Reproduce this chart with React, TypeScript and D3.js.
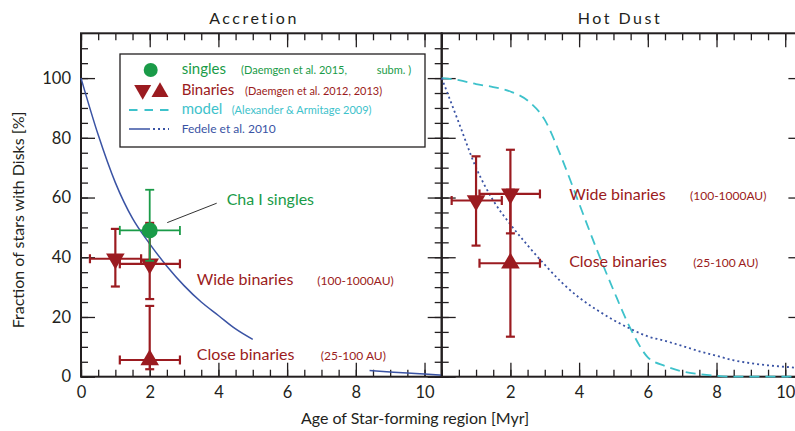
import React, { useEffect, useRef } from "react";
import * as d3 from "d3";

// Accretion panel: Fedele et al. 2010 curve, two pieces (hidden behind the label in between)
const fedeleAccAgeA = [0, 0.5, 1, 1.5, 2, 2.5, 3, 3.5, 4, 4.5, 5];
const fedeleAccFracA = [100, 81, 65, 53, 44.5, 37, 30.5, 25, 20.5, 16, 12.5];
const fedeleAccAgeB = [8.4, 9, 9.5, 10, 10.5];
const fedeleAccFracB = [2.1, 1.6, 1.2, 0.9, 0.5];

// Hot dust panel: Alexander & Armitage 2009 model and Fedele et al. 2010
const modelAge = [0, 0.5, 1, 1.5, 2, 2.5, 3, 3.5, 4, 4.5, 5, 5.5, 6, 6.5, 7, 7.5, 8, 8.5, 9, 10, 10.5];
const modelFrac = [100, 99.3, 98, 97, 95.5, 92.5, 86, 73, 58, 43, 29, 16, 6.5, 3.6, 1.8, 0.9, 0.3, 0, 0, 0, 0];
const fedeleDustAge = [0, 0.5, 1, 1.5, 2, 2.5, 3, 3.5, 4, 4.5, 5, 5.5, 6, 6.5, 7, 7.5, 8, 8.5, 9, 9.5, 10, 10.5];
const fedeleDustFrac = [100, 85, 70, 59, 51, 44, 37.5, 31.5, 26.5, 22.5, 19, 16, 13.5, 12, 10.3, 8.5, 7, 5.5, 4.5, 3.8, 3.3, 2.8];

// measurements: age [Myr], disk fraction [%], error ranges
type Pt = { age: number; frac: number; ageLo: number; ageHi: number; fracLo: number; fracHi: number };
const singlesAcc: Pt[] = [{ age: 2.0, frac: 49, ageLo: 1.13, ageHi: 2.88, fracLo: 38.8, fracHi: 62.6 }];
const wideAcc: Pt[] = [
  { age: 1.0, frac: 39.5, ageLo: 0.26, ageHi: 1.75, fracLo: 30.2, fracHi: 49.5 },
  { age: 2.0, frac: 37.8, ageLo: 1.13, ageHi: 2.88, fracLo: 26, fracHi: 51.5 },
];
const closeAcc: Pt[] = [{ age: 2.0, frac: 5.6, ageLo: 1.13, ageHi: 2.88, fracLo: 2.5, fracHi: 23.7 }];
const wideDust: Pt[] = [
  { age: 1.0, frac: 59, ageLo: 0.29, ageHi: 1.75, fracLo: 43.9, fracHi: 73.8 },
  { age: 2.0, frac: 61.2, ageLo: 1.1, ageHi: 2.86, fracLo: 48, fracHi: 76 },
];
const closeDust: Pt[] = [{ age: 2.0, frac: 38, ageLo: 1.1, ageHi: 2.86, fracLo: 13.4, fracHi: 62.6 }];

const xTicksAcc = [0, 2, 4, 6, 8, 10];
const xTicksDust = [2, 4, 6, 8, 10];
const yTicks = [0, 20, 40, 60, 80, 100];

const GREEN = "#1a9b48";
const RED = "#9b1b20";
const CYAN = "#3ec2cb";
const BLUE = "#3a53a4";
const INK = "#231f20";
const FONT = "Lato, 'Open Sans', sans-serif";

const width = 795;
const height = 431;
const top = 33.3;
const bottom = 376.7;
const panelW = 360.7;

export default function App() {
  const ref = useRef<SVGSVGElement>(null);

  useEffect(() => {
    const svg = d3.select(ref.current);
    svg.selectAll("*").remove();
    svg.style("font-family", FONT);

    const y = d3.scaleLinear().domain([0, 115]).range([bottom, top]);
    const minor = d3.range(0, 10.51, 0.5);
    const yMinor = d3.range(0, 115, 5);

    const zip = (a: number[], b: number[]) => a.map((v, i) => [v, b[i]] as [number, number]);

    const panel = (x0: number, title: string, titleX: number, labels: number[], leftLabels: boolean) => {
      const x = d3.scaleLinear().domain([0, 10.5]).range([x0, x0 + panelW]);
      const g = svg.append("g");

      const tickStyle = (a: d3.Selection<SVGGElement, unknown, null, undefined>) => {
        a.select(".domain").remove();
        a.selectAll("line").attr("stroke", INK).attr("stroke-width", 1.3);
        a.selectAll("text").attr("fill", INK).style("font-family", FONT).style("font-size", "16.5px");
      };

      // bottom / top
      g.append("g").attr("transform", `translate(0,${bottom})`)
        .call(d3.axisBottom(x).tickValues(minor).tickSize(-7).tickFormat(() => "")).call(tickStyle);
      g.append("g").attr("transform", `translate(0,${bottom})`)
        .call(d3.axisBottom(x).tickValues(labels).tickSize(-14).tickPadding(10).tickFormat(d3.format("d"))).call(tickStyle);
      g.append("g").attr("transform", `translate(0,${top})`)
        .call(d3.axisTop(x).tickValues(minor).tickSize(-7).tickFormat(() => "")).call(tickStyle);
      g.append("g").attr("transform", `translate(0,${top})`)
        .call(d3.axisTop(x).tickValues(xTicksAcc).tickSize(-14).tickFormat(() => "")).call(tickStyle);
      // left / right
      g.append("g").attr("transform", `translate(${x0},0)`)
        .call(d3.axisLeft(y).tickValues(yMinor).tickSize(-7).tickFormat(() => "")).call(tickStyle);
      g.append("g").attr("transform", `translate(${x0},0)`)
        .call(d3.axisLeft(y).tickValues(yTicks).tickSize(-14).tickPadding(10)
          .tickFormat(leftLabels ? d3.format("d") : () => "")).call(tickStyle);
      g.append("g").attr("transform", `translate(${x0 + panelW},0)`)
        .call(d3.axisRight(y).tickValues(yMinor).tickSize(-7).tickFormat(() => "")).call(tickStyle);
      g.append("g").attr("transform", `translate(${x0 + panelW},0)`)
        .call(d3.axisRight(y).tickValues(yTicks).tickSize(-14).tickFormat(() => "")).call(tickStyle);

      g.append("rect")
        .attr("x", x0).attr("y", top).attr("width", panelW).attr("height", bottom - top)
        .attr("fill", "none").attr("stroke", INK).attr("stroke-width", 2);

      g.append("text")
        .attr("x", titleX).attr("y", 24).attr("text-anchor", "middle")
        .attr("fill", INK).style("font-size", "16px").style("letter-spacing", "2.5px")
        .text(title);

      const line = d3.line<[number, number]>()
        .x(d => x(d[0])).y(d => y(d[1]))
        .curve(d3.curveMonotoneX);

      return { x, g, line };
    };

    const errorBars = (g: any, x: d3.ScaleLinear<number, number>, pts: Pt[], color: string, w: number) => {
      const cap = 4.5;
      const eg = g.append("g").attr("stroke", color).attr("stroke-width", w).attr("fill", "none");
      pts.forEach(p => {
        const cx = x(p.age), cy = y(p.frac);
        eg.append("line").attr("x1", cx).attr("x2", cx).attr("y1", y(p.fracLo)).attr("y2", y(p.fracHi));
        eg.append("line").attr("x1", cx - cap).attr("x2", cx + cap).attr("y1", y(p.fracLo)).attr("y2", y(p.fracLo));
        eg.append("line").attr("x1", cx - cap).attr("x2", cx + cap).attr("y1", y(p.fracHi)).attr("y2", y(p.fracHi));
        eg.append("line").attr("x1", x(p.ageLo)).attr("x2", x(p.ageHi)).attr("y1", cy).attr("y2", cy);
        eg.append("line").attr("x1", x(p.ageLo)).attr("x2", x(p.ageLo)).attr("y1", cy - cap).attr("y2", cy + cap);
        eg.append("line").attr("x1", x(p.ageHi)).attr("x2", x(p.ageHi)).attr("y1", cy - cap).attr("y2", cy + cap);
      });
    };

    const triangles = (g: any, x: d3.ScaleLinear<number, number>, pts: Pt[], down: boolean) => {
      const sym = d3.symbol().type(d3.symbolTriangle).size(150);
      g.selectAll(null).data(pts).enter().append("path")
        .attr("d", sym())
        .attr("fill", RED)
        .attr("transform", (p: Pt) => `translate(${x(p.age)},${y(p.frac)}) rotate(${down ? 180 : 0})`);
    };

    const label = (g: any, x: d3.ScaleLinear<number, number>, ax: number, ay: number, txt: string, color: string, size: number) => {
      g.append("text").attr("x", x(ax)).attr("y", y(ay)).attr("fill", color)
        .style("font-size", `${size}px`).text(txt);
    };

    // ---- Accretion ----
    const acc = panel(81, "Accretion", 254, xTicksAcc, true);
    [zip(fedeleAccAgeA, fedeleAccFracA), zip(fedeleAccAgeB, fedeleAccFracB)].forEach(seg => {
      acc.g.append("path").attr("d", acc.line(seg)).attr("fill", "none")
        .attr("stroke", BLUE).attr("stroke-width", 1.5);
    });
    errorBars(acc.g, acc.x, wideAcc, RED, 2.2);
    errorBars(acc.g, acc.x, closeAcc, RED, 2.2);
    triangles(acc.g, acc.x, wideAcc, true);
    triangles(acc.g, acc.x, closeAcc, false);
    errorBars(acc.g, acc.x, singlesAcc, GREEN, 1.8);
    acc.g.selectAll(null).data(singlesAcc).enter().append("circle")
      .attr("cx", (p: Pt) => acc.x(p.age)).attr("cy", (p: Pt) => y(p.frac)).attr("r", 8).attr("fill", GREEN);

    acc.g.append("line")
      .attr("x1", acc.x(2.51)).attr("y1", y(51.6)).attr("x2", acc.x(3.95)).attr("y2", y(58.1))
      .attr("stroke", "#333").attr("stroke-width", 1);
    label(acc.g, acc.x, 4.24, 57.6, "Cha I singles", GREEN, 16);
    label(acc.g, acc.x, 3.37, 30.75, "Wide binaries", RED, 16);
    label(acc.g, acc.x, 6.88, 30.75, "(100-1000AU)", RED, 12);
    label(acc.g, acc.x, 3.37, 5.6, "Close binaries", RED, 16);
    label(acc.g, acc.x, 6.98, 5.6, "(25-100 AU)", RED, 12);

    // ---- Hot Dust ----
    const dust = panel(441.7, "Hot Dust", 620, xTicksDust, false);
    dust.g.append("path").attr("d", dust.line(zip(modelAge, modelFrac))).attr("fill", "none")
      .attr("stroke", CYAN).attr("stroke-width", 1.8).attr("stroke-dasharray", "10 6");
    dust.g.append("path").attr("d", dust.line(zip(fedeleDustAge, fedeleDustFrac))).attr("fill", "none")
      .attr("stroke", BLUE).attr("stroke-width", 1.8).attr("stroke-dasharray", "2 3");
    errorBars(dust.g, dust.x, wideDust, RED, 2.2);
    errorBars(dust.g, dust.x, closeDust, RED, 2.2);
    triangles(dust.g, dust.x, wideDust, true);
    triangles(dust.g, dust.x, closeDust, false);
    label(dust.g, dust.x, 3.71, 59.3, "Wide binaries", RED, 16);
    label(dust.g, dust.x, 7.23, 59.3, "(100-1000AU)", RED, 12);
    label(dust.g, dust.x, 3.71, 36.9, "Close binaries", RED, 16);
    label(dust.g, dust.x, 7.32, 36.9, "(25-100 AU)", RED, 12);

    // ---- axis titles ----
    svg.append("text").attr("x", 415).attr("y", 424).attr("text-anchor", "middle")
      .attr("fill", INK).style("font-size", "16px").text("Age of Star-forming region [Myr]");
    svg.append("text").attr("transform", "translate(24,220) rotate(-90)").attr("text-anchor", "middle")
      .attr("fill", INK).style("font-size", "16px").text("Fraction of stars with Disks [%]");

    // ---- legend ----
    const lg = svg.append("g");
    lg.append("rect").attr("x", 120).attr("y", 54).attr("width", 305).attr("height", 93)
      .attr("fill", "white").attr("stroke", INK).attr("stroke-width", 1.3);
    lg.append("circle").attr("cx", 150.7).attr("cy", 70).attr("r", 7).attr("fill", GREEN);
    const tri = d3.symbol().type(d3.symbolTriangle).size(125)();
    lg.append("path").attr("d", tri).attr("fill", RED).attr("transform", "translate(142.7,90) rotate(180)");
    lg.append("path").attr("d", tri).attr("fill", RED).attr("transform", "translate(160,92)");
    lg.append("line").attr("x1", 129).attr("x2", 169).attr("y1", 110).attr("y2", 110)
      .attr("stroke", CYAN).attr("stroke-width", 1.8).attr("stroke-dasharray", "8.5 7");
    lg.append("line").attr("x1", 129).attr("x2", 150).attr("y1", 129).attr("y2", 129)
      .attr("stroke", BLUE).attr("stroke-width", 1.5);
    lg.append("line").attr("x1", 153).attr("x2", 169).attr("y1", 129).attr("y2", 129)
      .attr("stroke", BLUE).attr("stroke-width", 1.8).attr("stroke-dasharray", "2 3");

    const lt = (x: number, yy: number, txt: string, color: string, size: number) =>
      lg.append("text").attr("x", x).attr("y", yy).attr("fill", color).style("font-size", `${size}px`).text(txt);
    lt(181.7, 74, "singles", GREEN, 15);
    lt(241, 74, "(Daemgen et al. 2015,", GREEN, 11);
    lt(376.7, 74, "subm.  )", GREEN, 11);
    lt(181.7, 95, "Binaries", RED, 15);
    lt(245, 95, "(Daemgen et al. 2012, 2013)", RED, 11);
    lt(181.7, 114, "model", CYAN, 15);
    lt(231.7, 114, "(Alexander & Armitage 2009)", CYAN, 11);
    lt(181.7, 133, "Fedele et al. 2010", BLUE, 12);
  }, []);

  return (
    <svg
      ref={ref}
      width={width}
      height={height}
      style={{ position: "absolute", left: 0, top: 0, background: "white" }}
    />
  );
}
